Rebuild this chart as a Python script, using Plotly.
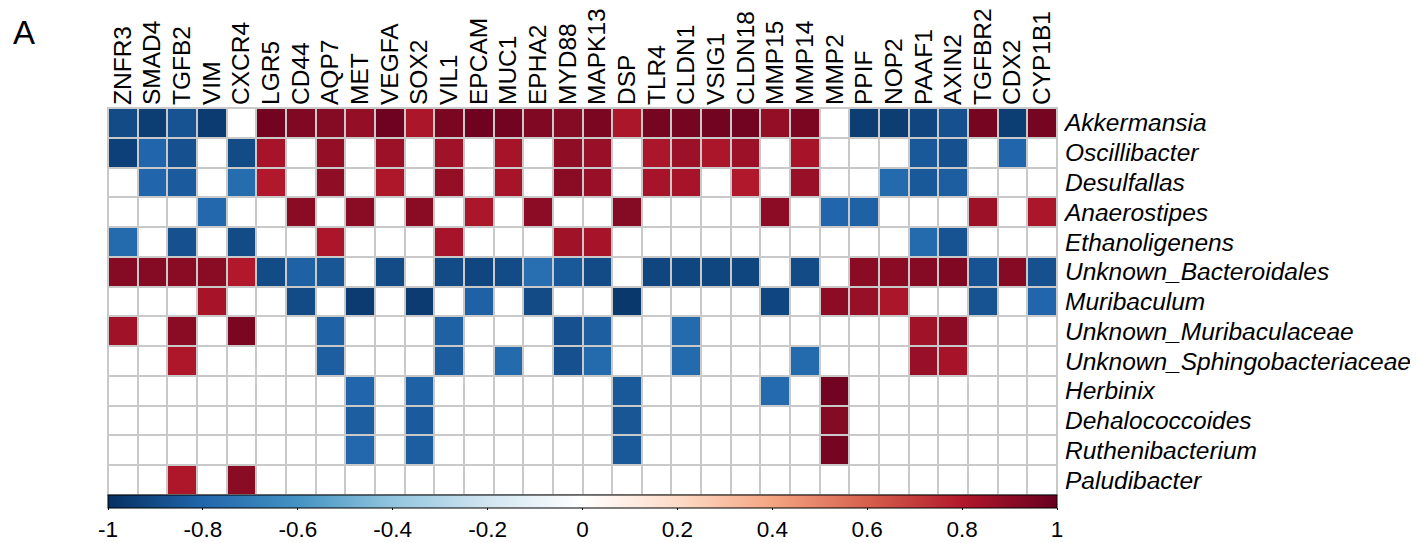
import plotly.graph_objects as go

genes = ["ZNFR3", "SMAD4", "TGFB2", "VIM", "CXCR4", "LGR5", "CD44", "AQP7", "MET", "VEGFA",
         "SOX2", "VIL1", "EPCAM", "MUC1", "EPHA2", "MYD88", "MAPK13", "DSP", "TLR4", "CLDN1",
         "VSIG1", "CLDN18", "MMP15", "MMP14", "MMP2", "PPIF", "NOP2", "PAAF1", "AXIN2", "TGFBR2",
         "CDX2", "CYP1B1"]

taxa = ["Akkermansia", "Oscillibacter", "Desulfallas", "Anaerostipes", "Ethanoligenens",
        "Unknown_Bacteroidales", "Muribaculum", "Unknown_Muribaculaceae",
        "Unknown_Sphingobacteriaceae", "Herbinix", "Dehalococcoides", "Ruthenibacterium",
        "Paludibacter"]

akkermansia = [-0.9, -0.95, -0.87, -0.96, 0, 0.97, 0.93, 0.92, 0.88, 0.98, 0.82, 0.95, 0.98, 0.97, 0.93, 0.92,
               0.95, 0.82, 0.96, 0.96, 0.97, 0.97, 0.88, 0.95, 0, -0.95, -0.95, -0.92, -0.88, 0.96, -0.95, 0.96]
oscillibacter = [-0.94, -0.8, -0.88, 0, -0.9, 0.83, 0, 0.88, 0, 0.86, 0, 0.85, 0, 0.83, 0, 0.89,
                 0.87, 0, 0.82, 0.86, 0.82, 0.86, 0, 0.83, 0, 0, 0, -0.85, -0.88, 0, -0.8, 0]
desulfallas = [0, -0.8, -0.84, 0, -0.77, 0.8, 0, 0.89, 0, 0.81, 0, 0.88, 0, 0.83, 0, 0.91,
               0.87, 0, 0.83, 0.83, 0, 0.8, 0, 0.87, 0, 0, -0.78, -0.85, -0.83, 0, 0, 0]
anaerostipes = [0, 0, 0, -0.79, 0, 0, 0.91, 0, 0.91, 0, 0.91, 0, 0.82, 0, 0.9, 0,
                0, 0.92, 0, 0, 0, 0, 0.9, 0, -0.8, -0.82, 0, 0, 0, 0.86, 0, 0.82]
ethanoligenens = [-0.78, 0, -0.88, 0, -0.9, 0, 0, 0.82, 0, 0, 0, 0.83, 0, 0, 0, 0.85,
                  0.83, 0, 0, 0, 0, 0, 0, 0, 0, 0, 0, -0.78, -0.87, 0, 0, 0]
unknown_bacteroidales = [0.92, 0.92, 0.91, 0.91, 0.8, -0.9, -0.82, -0.86, 0, -0.9, 0, -0.9, -0.92, -0.9, -0.76, -0.85,
                         -0.9, 0, -0.92, -0.92, -0.92, -0.92, 0, -0.9, 0, 0.91, 0.91, 0.92, 0.93, -0.87, 0.92, -0.88]
muribaculum = [0, 0, 0, 0.83, 0, 0, -0.9, 0, -0.96, 0, -0.96, 0, -0.82, 0, -0.9, 0,
               0, -0.97, 0, 0, 0, 0, -0.92, 0, 0.9, 0.87, 0.82, 0, 0, -0.87, 0, -0.8]
unknown_muribaculaceae = [0.85, 0, 0.91, 0, 0.95, 0, 0, -0.82, 0, 0, 0, -0.82, 0, 0, 0, -0.88,
                          -0.83, 0, 0, -0.78, 0, 0, 0, 0, 0, 0, 0, 0.85, 0.9, 0, 0, 0]
unknown_sphingobacteriaceae = [0, 0, 0.81, 0, 0, 0, 0, -0.83, 0, 0, 0, -0.83, 0, -0.78, 0, -0.88,
                               -0.78, 0, 0, -0.78, 0, 0, 0, -0.78, 0, 0, 0, 0.87, 0.83, 0, 0, 0]
herbinix = [0, 0, 0, 0, 0, 0, 0, 0, -0.8, 0, -0.82, 0, 0, 0, 0, 0,
            0, -0.85, 0, 0, 0, 0, -0.78, 0, 0.97, 0, 0, 0, 0, 0, 0, 0]
dehalococcoides = [0, 0, 0, 0, 0, 0, 0, 0, -0.83, 0, -0.84, 0, 0, 0, 0, 0,
                   0, -0.86, 0, 0, 0, 0, 0, 0, 0.92, 0, 0, 0, 0, 0, 0, 0]
ruthenibacterium = [0, 0, 0, 0, 0, 0, 0, 0, -0.79, 0, -0.83, 0, 0, 0, 0, 0,
                    0, -0.85, 0, 0, 0, 0, 0, 0, 0.96, 0, 0, 0, 0, 0, 0, 0]
paludibacter = [0, 0, 0.81, 0, 0.91, 0, 0, 0, 0, 0, 0, 0, 0, 0, 0, 0,
                0, 0, 0, 0, 0, 0, 0, 0, 0, 0, 0, 0, 0, 0, 0, 0]

z = [akkermansia, oscillibacter, desulfallas, anaerostipes, ethanoligenens,
     unknown_bacteroidales, muribaculum, unknown_muribaculaceae, unknown_sphingobacteriaceae,
     herbinix, dehalococcoides, ruthenibacterium, paludibacter]

cbar_vals = [-1, -0.8, -0.6, -0.4, -0.2, 0, 0.2, 0.4, 0.6, 0.8, 1]
cbar_text = ["-1", "-0.8", "-0.6", "-0.4", "-0.2", "0", "0.2", "0.4", "0.6", "0.8", "1"]

colorscale = [[0.0, "#053061"], [0.1, "#2166ac"], [0.2, "#4393c3"], [0.3, "#92c5de"],
              [0.4, "#d1e5f0"], [0.5, "#ffffff"], [0.6, "#fddbc7"], [0.7, "#f4a582"],
              [0.8, "#d6604d"], [0.9, "#b2182b"], [1.0, "#67001f"]]

FONT = "Arial, Liberation Sans, sans-serif"

fig = go.Figure(go.Heatmap(
    z=z, x=genes, y=taxa, zmin=-1, zmax=1, colorscale=colorscale,
    xgap=2, ygap=2, hoverongaps=False,
    colorbar=dict(
        orientation="h", x=0.5, xanchor="center", y=0.0, yanchor="top",
        len=1, lenmode="fraction", thickness=13, xpad=0, ypad=0,
        outlinecolor="black", outlinewidth=1,
        ticks="outside", ticklen=2, tickcolor="black",
        tickvals=cbar_vals, ticktext=cbar_text,
        tickfont=dict(family=FONT, size=22.5, color="black"),
    ),
))

# the page body adds an 8px offset, so the figure is sized 8px smaller
fig.update_layout(
    width=1410, height=535,
    margin=dict(l=100, r=361, t=100, b=48, autoexpand=False),
    paper_bgcolor="white", plot_bgcolor="#c9c9c9",
    font=dict(family=FONT, color="black"),
    xaxis=dict(side="top", tickangle=-90, showgrid=False, zeroline=False, ticks="",
               tickmode="array", tickvals=genes, ticktext=genes, automargin=False,
               ticklabelstandoff=2,
               tickfont=dict(family=FONT, size=24.5, color="black")),
    yaxis=dict(side="right", autorange="reversed", showgrid=False, zeroline=False, ticks="",
               tickmode="array", tickvals=taxa, ticktext=taxa, automargin=False,
               ticklabelstandoff=7,
               tickfont=dict(family=FONT, size=24.5, color="black", style="italic")),
    shapes=[dict(type="rect", xref="paper", yref="paper", x0=0, x1=1, y0=0, y1=1,
                 line=dict(color="#c9c9c9", width=2), fillcolor="rgba(0,0,0,0)")],
    annotations=[dict(text="A", xref="paper", yref="paper", x=-0.102, y=1.195,
                      xanchor="left", yanchor="middle", showarrow=False,
                      font=dict(family=FONT, size=33, color="black"))],
)

fig.write_html("out.html")
